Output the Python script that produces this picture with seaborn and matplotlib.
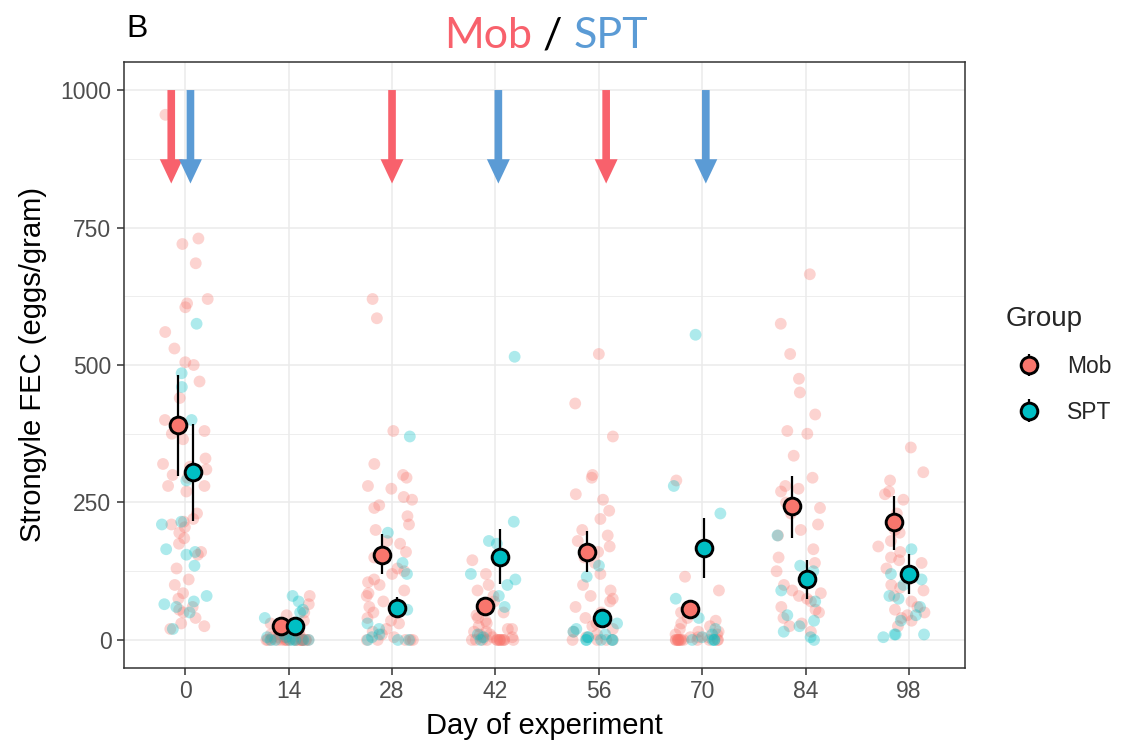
import numpy as np
import pandas as pd
import matplotlib
matplotlib.use("Agg")
import matplotlib.pyplot as plt
import seaborn as sns

# ---------------- data ----------------
days = [0, 14, 28, 42, 56, 70, 84, 98]
sample_day = [0.0, 13.9, 27.7, 41.6, 55.4, 69.3, 83.2, 97.0]
groups = ["Mob", "SPT"]

mob_d0 = [955, 730, 720, 685, 620, 612, 605, 560, 530, 505, 500, 470, 440, 400, 385, 380, 375,
          365, 330, 320, 315, 310, 300, 295, 280, 280, 270, 230, 220, 215, 210, 205, 195, 185,
          175, 160, 155, 130, 110, 100, 85, 75, 60, 55, 50, 40, 30, 25, 20]
spt_d0 = [575, 485, 460, 400, 290, 215, 210, 165, 160, 155, 135, 80, 70, 65, 60, 50, 20]
mob_d14 = [80, 65, 50, 45, 35, 30, 25, 20, 15, 15, 10, 10, 10, 5, 5, 5, 5, 5, 0, 0, 0, 0, 0,
           0, 0, 0, 0, 0, 0, 0, 0, 0, 0, 0, 0, 0, 0, 0]
spt_d14 = [80, 70, 55, 50, 40, 10, 5, 5, 0, 0, 0, 0, 0, 0, 0]
mob_d28 = [620, 585, 380, 320, 300, 295, 280, 275, 260, 255, 245, 240, 225, 210, 200, 180, 175,
           160, 150, 130, 125, 120, 110, 105, 100, 90, 85, 80, 70, 60, 50, 40, 35, 30, 20, 15,
           10, 5, 0, 0, 0, 0, 0]
spt_d28 = [370, 195, 140, 120, 60, 55, 30, 20, 10, 5, 0, 0, 0]
mob_d42 = [145, 120, 100, 90, 80, 70, 60, 50, 45, 40, 35, 30, 25, 20, 20, 15, 15, 10, 10, 5, 5,
           5, 0, 0, 0, 0, 0, 0, 0, 0, 0, 0, 0, 0, 0]
spt_d42 = [515, 215, 180, 175, 120, 110, 100, 80, 60, 10, 5, 0]
mob_d56 = [520, 430, 370, 300, 295, 265, 255, 235, 220, 200, 190, 180, 170, 160, 150, 140, 120,
           100, 90, 80, 75, 70, 60, 50, 40, 35, 30, 25, 20, 15, 10, 5, 0, 0, 0, 0]
spt_d56 = [135, 115, 30, 20, 15, 10, 5, 5, 0, 0, 0, 0, 0]
mob_d70 = [290, 115, 90, 60, 50, 40, 35, 30, 25, 20, 15, 15, 10, 10, 5, 5, 5, 0, 0, 0, 0, 0, 0,
           0, 0, 0, 0, 0, 0, 0]
spt_d70 = [555, 280, 230, 75, 60, 40, 20, 10, 5, 0, 0, 0, 0]
mob_d84 = [665, 575, 520, 475, 450, 410, 380, 375, 335, 295, 280, 275, 270, 250, 240, 230, 210,
           200, 190, 165, 150, 140, 125, 115, 100, 90, 85, 80, 75, 70, 60, 55, 50, 40, 30, 25, 15]
spt_d84 = [190, 135, 125, 115, 90, 70, 45, 35, 25, 15, 5, 0]
mob_d98 = [350, 305, 290, 270, 265, 255, 230, 200, 195, 180, 170, 160, 150, 145, 140, 130, 120,
           110, 100, 95, 90, 80, 70, 60, 55, 50, 45, 40, 35, 25]
spt_d98 = [165, 120, 110, 100, 80, 75, 60, 45, 35, 10, 10, 10, 5]

mob_mean = [391, 26, 155, 62, 160, 56, 243, 214]
mob_lo = [299, 18, 120, 50, 124, 45, 186, 164]
mob_hi = [481, 34, 192, 74, 198, 67, 299, 262]
spt_mean = [306, 26, 59, 151, 40, 167, 110, 120]
spt_lo = [217, 18, 40, 101, 29, 113, 75, 84]
spt_hi = [393, 34, 78, 201, 51, 221, 146, 156]

mob_treat_days = [-1.9, 28.0, 57.0]
spt_treat_days = [0.7, 42.4, 70.5]

# --------------- styling ---------------
sns.set_style("white")
plt.rcParams["font.family"] = ["Liberation Sans", "DejaVu Sans"]

pt_colors = {"Mob": "#F8766D", "SPT": "#00BFC4"}
arrow_colors = {"Mob": "#F8616C", "SPT": "#5B9BD5"}

mob_lists = [mob_d0, mob_d14, mob_d28, mob_d42, mob_d56, mob_d70, mob_d84, mob_d98]
spt_lists = [spt_d0, spt_d14, spt_d28, spt_d42, spt_d56, spt_d70, spt_d84, spt_d98]
rows = []
for d, ml, sl in zip(sample_day, mob_lists, spt_lists):
    for v in ml:
        rows.append((d, "Mob", v))
    for v in sl:
        rows.append((d, "SPT", v))
df = pd.DataFrame(rows, columns=["day", "Group", "fec"])

W, H = 1130, 744
fig = plt.figure(figsize=(W / 100, H / 100), dpi=100)
ax = fig.add_axes([124 / W, 76 / H, (965 - 124) / W, (668 - 62) / H])

np.random.seed(7)
sns.stripplot(data=df, x="day", y="fec", hue="Group", hue_order=groups, native_scale=True,
              jitter=0.23, dodge=False, palette=pt_colors, alpha=0.32, size=8.5, linewidth=0,
              ax=ax, legend=False, zorder=2)

mob_x = [d - 1.0 for d in sample_day]
spt_x = [d + 1.0 for d in sample_day]
handles = []
for xs, m, lo, hi, g in [(mob_x, mob_mean, mob_lo, mob_hi, "Mob"),
                         (spt_x, spt_mean, spt_lo, spt_hi, "SPT")]:
    yerr = [np.array(m) - np.array(lo), np.array(hi) - np.array(m)]
    eb = ax.errorbar(xs, m, yerr=yerr, fmt="o", color="black", ecolor="black",
                     elinewidth=1.6, capsize=0, mfc=pt_colors[g], mec="black", mew=2.1,
                     ms=12, zorder=5, label=g)
    handles.append(eb)

# treatment arrows
for g, tdays in [("Mob", mob_treat_days), ("SPT", spt_treat_days)]:
    for td in tdays:
        ax.annotate("", xy=(td, 830), xytext=(td, 1000),
                    arrowprops=dict(arrowstyle="simple,head_length=1.75,head_width=1.65,tail_width=0.55",
                                    mutation_scale=10, color=arrow_colors[g], lw=0,
                                    shrinkA=0, shrinkB=0), zorder=4)

ax.set_xlim(-8.3, 105.6)
ax.set_ylim(-51, 1051)
ax.set_xticks(days)
ax.set_xticklabels([str(d) for d in days])
ax.set_yticks([0, 250, 500, 750, 1000])
ax.set_yticks([125, 375, 625, 875], minor=True)
ax.set_axisbelow(True)
ax.grid(which="major", color="#EBEBEB", lw=1.1)
ax.grid(which="minor", axis="y", color="#EBEBEB", lw=0.6)
ax.tick_params(which="major", length=5, width=1.1, color="#333333", labelsize=16.5,
               labelcolor="#4D4D4D", pad=4, direction="out", bottom=True, left=True)
ax.tick_params(which="minor", length=0)
for s in ax.spines.values():
    s.set_color("#333333")
    s.set_linewidth(1.1)
ax.set_xlabel("Day of experiment", fontsize=21, color="black", labelpad=6)
ax.set_ylabel("Strongyle FEC (eggs/gram)", fontsize=21, color="black", labelpad=10)

leg = fig.legend(handles=handles, labels=groups, title="Group", loc="center left",
                 bbox_to_anchor=(996 / W, 1 - 365 / H), frameon=False, fontsize=16.5,
                 title_fontsize=20, alignment="left", handlelength=2.1, handletextpad=0.6,
                 labelspacing=1.0, borderaxespad=0)

# panel tag
fig.text(126 / W, 1 - 29 / H, "B", fontsize=23, va="center", ha="left", color="black")

# coloured title
fig.canvas.draw()
renderer = fig.canvas.get_renderer()
tfont = dict(fontsize=31, family=["Lato", "DejaVu Sans"], fontweight="normal", va="baseline")
parts = [("Mob", arrow_colors["Mob"]), (" / ", "black"), ("SPT", arrow_colors["SPT"])]
texts = [fig.text(0, 0, s, color=c, **tfont) for s, c in parts]
widths = [t.get_window_extent(renderer).width for t in texts]
total = sum(widths)
x0 = 546 - total / 2
base_y = 1 - 48 / H
for t, w in zip(texts, widths):
    t.set_position((x0 / W, base_y))
    x0 += w

fig.savefig("out.png", dpi=100)
